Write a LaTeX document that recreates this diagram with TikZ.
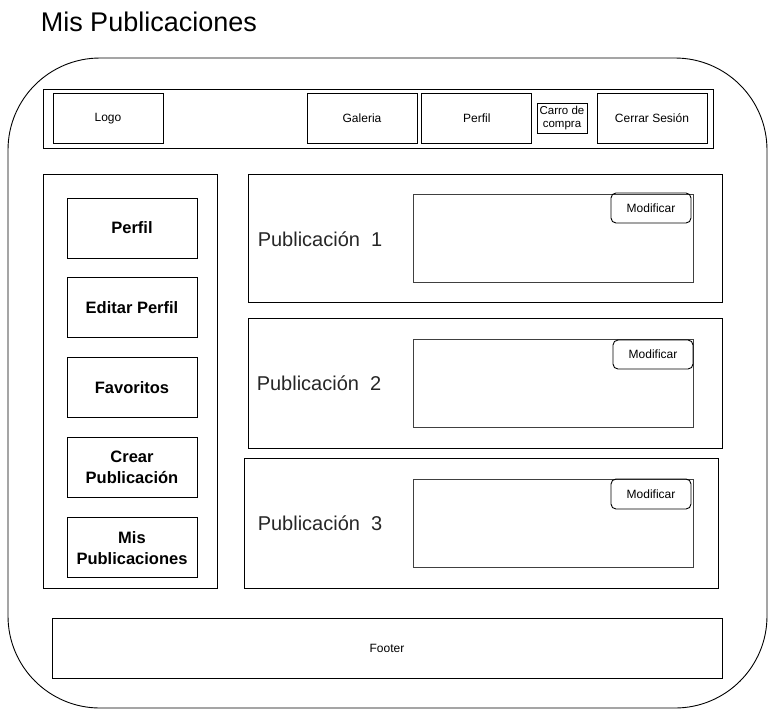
\documentclass[tikz,border=0pt]{standalone}
\usepackage{fontspec}
\setmainfont{Liberation Sans}
\usepackage{tikz}
\usetikzlibrary{positioning}

\begin{document}
\begin{tikzpicture}[x=1pt, y=-1pt, line width=0.9pt,
  box/.style = {draw, inner sep=1pt, align=center, font=\fontsize{12}{14}\selectfont},
  side/.style = {box, minimum width=130, minimum height=60, font=\bfseries\fontsize{16.5}{21}\selectfont},
  pub/.style = {draw, minimum width=474, minimum height=130},
  shot/.style = {draw=black!75, minimum width=280, minimum height=88},
  edit/.style = {box, rounded corners=5pt, minimum width=80, minimum height=30},
  label/.style = {anchor=west, font=\fontsize{20}{24}\selectfont, text=black!85}]
          \useasboundingbox (0,0) rectangle (768,724);
          % Define nodes
          \node[anchor=west, font=\fontsize{27}{31}\selectfont] (title) at (37,22) {Mis Publicaciones};
          \node[draw, rounded corners=92pt, minimum width=759, minimum height=650] (frame) at (387.5,383) {};
          \node[draw, minimum width=670, minimum height=59] (bar) at (378,118.5) {};
          \node[box, minimum width=110, minimum height=50, text depth=2pt] (logo) at (108,118) {Logo};
          \node[box, minimum width=110, minimum height=50] (galeria) at (362,118) {Galeria};
          \node[box, minimum width=110, minimum height=50] (perfil) [right=4pt of galeria] {Perfil};
          \node[box, minimum width=50, minimum height=30, font=\fontsize{11.5}{13}\selectfont] (carro) at (562,118) {Carro de\\compra};
          \node[box, minimum width=110, minimum height=50] (cerrar) at (652,118) {Cerrar Sesión};
          \node[draw, minimum width=174, minimum height=414] (menu) at (130,381) {};
          \node[side] (mperfil) at (132,228) {Perfil};
          \node[side] (meditar) [below=19pt of mperfil] {Editar Perfil};
          \node[side] (mfav) [below=19pt of meditar] {Favoritos};
          \node[side] (mcrear) [below=19pt of mfav] {Crear\\Publicación};
          \node[side] (mmis) [below=19pt of mcrear] {Mis\\Publicaciones};
          \node[pub, minimum height=128] (pub1) at (485,238) {};
          \node[shot] (img1) at (553,238) {};
          \node[edit] (mod1) at (651,208) {Modificar};
          \node[label] (lab1) at (254,239) {Publicación\ \ 1};
          \node[pub] (pub2) at (485,383) {};
          \node[shot] (img2) at (553,383) {};
          \node[edit, minimum height=29] (mod2) at (653,354.5) {Modificar};
          \node[label] (lab2) at (253,383) {Publicación\ \ 2};
          \node[pub] (pub3) at (481,523) {};
          \node[shot] (img3) at (553,523) {};
          \node[edit] (mod3) at (651,494) {Modificar};
          \node[label] (lab3) at (254,523) {Publicación\ \ 3};
          \node[box, minimum width=670, minimum height=60] (footer) at (387,648) {Footer};
        \end{tikzpicture}
\end{document}
